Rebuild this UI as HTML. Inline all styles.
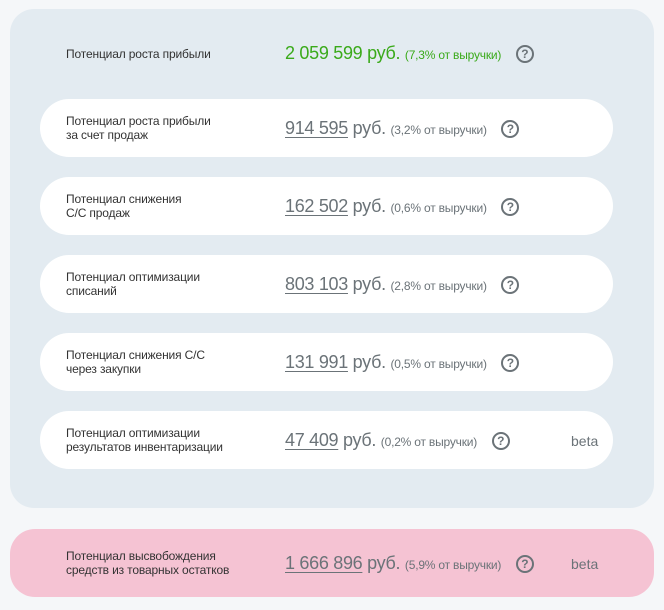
<!DOCTYPE html>
<html><head><meta charset="utf-8"><style>
body{margin:0;width:664px;height:610px;background:#f5f7f9;font-family:"Liberation Sans",sans-serif;position:relative;overflow:hidden}
.panel{position:absolute;left:10px;top:9px;width:644px;height:499px;background:#e3ebf1;border-radius:24px}
.card{position:absolute;left:40px;width:573px;height:58px;background:#fff;border-radius:29px}
.pink{position:absolute;left:10px;top:529px;width:644px;height:68px;background:#f5c3d3;border-radius:25px}
.lbl{position:absolute;left:66px;font-size:12px;line-height:14px;color:#333;letter-spacing:-0.15px}
.val{position:absolute;left:285px;font-size:18px;color:#6b7378;white-space:nowrap;letter-spacing:-0.3px}
.val u{text-decoration-thickness:1px;text-underline-offset:3px}
.val small{font-size:12px;letter-spacing:-0.2px}
.q{display:inline-block;width:14px;height:14px;border:2px solid #6b7378;border-radius:50%;font-size:12px;font-weight:bold;text-align:center;line-height:14px;vertical-align:1px;margin-left:10px;letter-spacing:0;color:#6b7378}
.beta{position:absolute;left:571px;font-size:14px;color:#6b7378}
</style></head><body>
<div class="panel"></div>
<div class="lbl" style="top:47px">Потенциал роста прибыли</div>
<div class="val" style="top:43px;color:#3aaa1a">2 059 599 руб. <small>(7,3% от выручки)</small> <span class="q">?</span></div>

<div class="card" style="top:99px"></div>
<div class="lbl" style="top:114px">Потенциал роста прибыли<br>за счет продаж</div>
<div class="val" style="top:118px"><u>914 595</u> руб. <small>(3,2% от выручки)</small> <span class="q">?</span></div>

<div class="card" style="top:177px"></div>
<div class="lbl" style="top:192px">Потенциал снижения<br>С/С продаж</div>
<div class="val" style="top:196px"><u>162 502</u> руб. <small>(0,6% от выручки)</small> <span class="q">?</span></div>

<div class="card" style="top:255px"></div>
<div class="lbl" style="top:270px">Потенциал оптимизации<br>списаний</div>
<div class="val" style="top:274px"><u>803 103</u> руб. <small>(2,8% от выручки)</small> <span class="q">?</span></div>

<div class="card" style="top:333px"></div>
<div class="lbl" style="top:348px">Потенциал снижения С/С<br>через закупки</div>
<div class="val" style="top:352px"><u>131 991</u> руб. <small>(0,5% от выручки)</small> <span class="q">?</span></div>

<div class="card" style="top:411px"></div>
<div class="lbl" style="top:426px">Потенциал оптимизации<br>результатов инвентаризации</div>
<div class="val" style="top:430px"><u>47 409</u> руб. <small>(0,2% от выручки)</small> <span class="q">?</span></div>
<div class="beta" style="top:433px">beta</div>

<div class="pink"></div>
<div class="lbl" style="top:549px">Потенциал высвобождения<br>средств из товарных остатков</div>
<div class="val" style="top:553px"><u>1 666 896</u> руб. <small>(5,9% от выручки)</small> <span class="q">?</span></div>
<div class="beta" style="top:556px">beta</div>
</body></html>
